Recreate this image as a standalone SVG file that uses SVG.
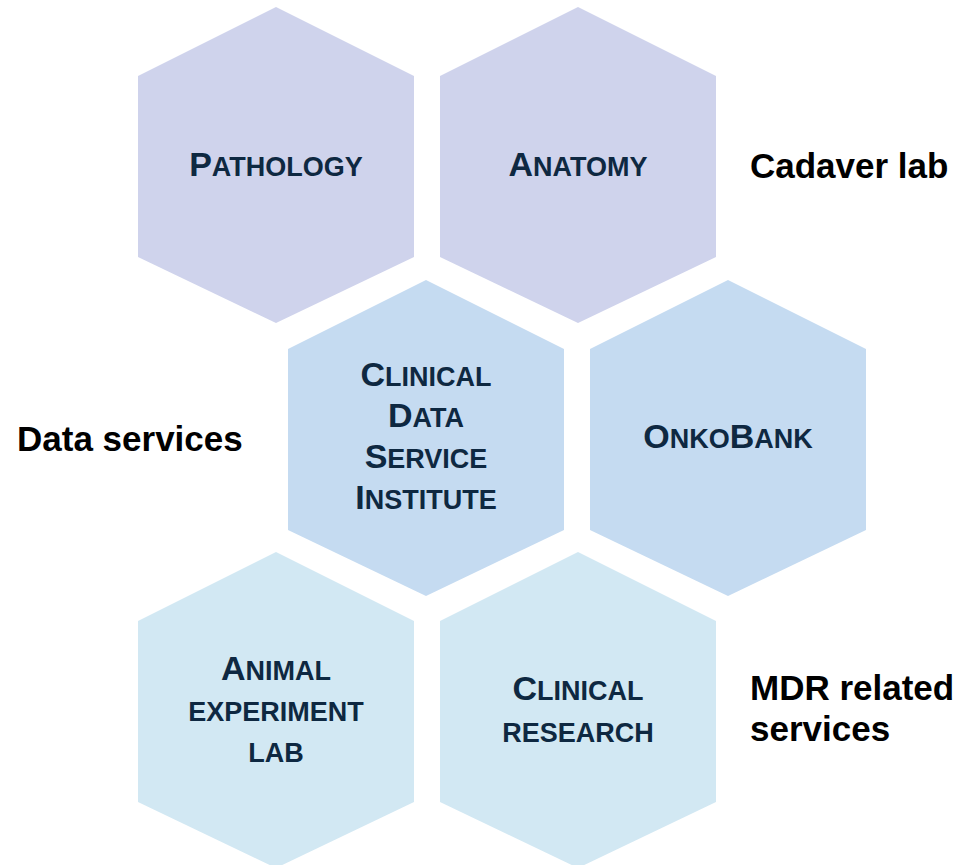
<svg xmlns="http://www.w3.org/2000/svg" width="961" height="865" viewBox="0 0 961 865">
<defs>
<style>
.h1{fill:#CFD3EC}
.h2{fill:#C5DBF1}
.h3{fill:#D2E8F3}
.t{font-family:"Liberation Sans",Arial,sans-serif;font-weight:bold;font-size:27px;fill:#0E2841;text-anchor:middle}
.c{font-size:34px}
.lbl{font-family:"Liberation Sans",Arial,sans-serif;font-weight:bold;font-size:35px;fill:#000}
</style>
<path id="hex" d="M0,0 L138,69 L138,250 L0,316 L-138,250 L-138,69 Z"/>
</defs>
<rect width="961" height="865" fill="#fff"/>
<g id="pathology">
<use href="#hex" x="276" y="7" class="h1"/>
<text class="t" x="276" y="176"><tspan class="c">P</tspan>ATHOLOGY</text>
</g>
<g id="anatomy">
<use href="#hex" x="578" y="7" class="h1"/>
<text class="t" x="578" y="176"><tspan class="c">A</tspan>NATOMY</text>
</g>
<g id="cdsi">
<use href="#hex" x="426" y="280" class="h2"/>
<text class="t" x="426" y="386"><tspan class="c">C</tspan>LINICAL</text>
<text class="t" x="426" y="427"><tspan class="c">D</tspan>ATA</text>
<text class="t" x="426" y="468"><tspan class="c">S</tspan>ERVICE</text>
<text class="t" x="426" y="509"><tspan class="c">I</tspan>NSTITUTE</text>
</g>
<g id="onkobank">
<use href="#hex" x="728" y="280" class="h2"/>
<text class="t" x="728" y="448"><tspan class="c">O</tspan>NKO<tspan class="c">B</tspan>ANK</text>
</g>
<g id="animal">
<use href="#hex" x="276" y="552" class="h3"/>
<text class="t" x="276" y="680"><tspan class="c">A</tspan>NIMAL</text>
<text class="t" x="276" y="721">EXPERIMENT</text>
<text class="t" x="276" y="762">LAB</text>
</g>
<g id="clinical-research">
<use href="#hex" x="578" y="552" class="h3"/>
<text class="t" x="578" y="700"><tspan class="c">C</tspan>LINICAL</text>
<text class="t" x="578" y="742">RESEARCH</text>
</g>
<g id="labels">
<text class="lbl" x="750" y="178">Cadaver lab</text>
<text class="lbl" x="17" y="451">Data services</text>
<text class="lbl" x="750" y="700">MDR related</text>
<text class="lbl" x="750" y="741">services</text>
</g>
<g id="connectors"/>
</svg>
